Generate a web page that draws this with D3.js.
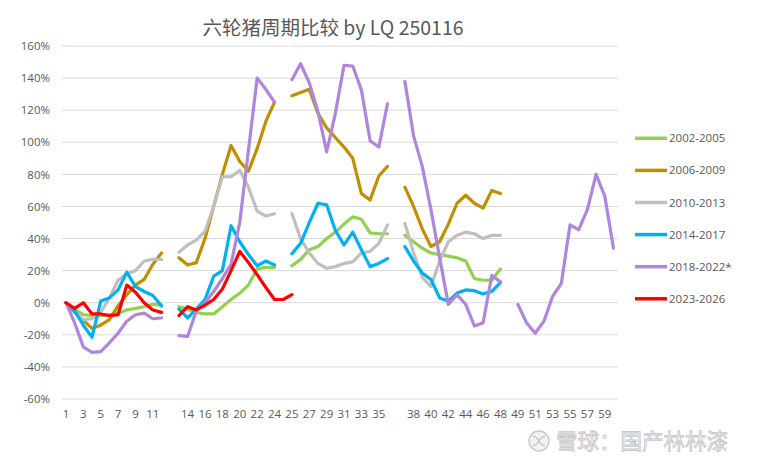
<!DOCTYPE html>
<html>
<head>
<meta charset="utf-8">
<script src="https://cdn.jsdelivr.net/npm/d3@7"></script>
<style>
	body { margin: 0; background: #fff; }
	text { font-family: "Open Sans", "Liberation Sans", sans-serif; }
</style>
</head>
<body>
<svg id="chart" width="759" height="467"></svg>
<script>
var n = null;

/*
 * x categories: five years of months, a blank slot between each year
 */
var categories = [1,2,3,4,5,6,7,8,9,10,11,12,"",
	13,14,15,16,17,18,19,20,21,22,23,24,"",
	25,26,27,28,29,30,31,32,33,34,35,36,"",
	37,38,39,40,41,42,43,44,45,46,47,48,"",
	49,50,51,52,53,54,55,56,57,58,59,60];

var yTicks = [-60,-40,-20,0,20,40,60,80,100,120,140,160];

// values in %, null = no point
var s2002 = [0,-4,-7.5,-8,-8,-7.5,-6.5,-4.5,-3.5,-2.5,-1,-1.5, n,
	-2.5,-4,-6,-7,-7,-2.5,2,6,11,21,22,22, n,
	23,27,33,35,40,44,49,53.5,52,43.5,43,43, n,
	42,38,34,31,30,29,28,26,15,14,14,21, n,
	n,n,n,n,n,n,n,n,n,n,n,n];
var s2006 = [0,-6,-11,-16,-14,-10.5,-2,5,11,14.5,24,31, n,
	28,23.5,25,40,60,80,98,88,82,96,113,125, n,
	129,131,133,118,109,103,97,90,68,64,79,85, n,
	72,60,46,35,38,49,62,67,62,59,70,68, n,
	n,n,n,n,n,n,n,n,n,n,n,n];
var s2010 = [0,-5,-10.5,-10,-6,3,14,18,20,26,27,27, n,
	31.5,36,39,44.5,60,78.5,78.5,82.5,72,57,54,55.5, n,
	55.5,40,31,24.5,21.5,22.5,24.5,25.5,31,32,37,48.5, n,
	49.5,31,16,10,26,38,42,44,43,40,42,42, n,
	n,n,n,n,n,n,n,n,n,n,n,n];
var s2014 = [0,-5,-14,-21.5,1,3,8,19,10,7,4.5,-2, n,
	-4,-9.5,-4,2,16.5,20,48,38,30,23,26,23.5, n,
	30.5,37,50,62,61,45,36,44,33,22.5,24.5,27.5, n,
	35,26,18.5,14.5,3,1,6,8,7.5,5.5,7,12.5, n,
	n,n,n,n,n,n,n,n,n,n,n,n];
var s2018 = [0,-12.5,-27.5,-31,-30.5,-25,-19,-11.5,-7.5,-6.5,-10,-9.5, n,
	-20.5,-21,-5,0,7,15,24,50,95,140,133,125, n,
	139,149,137,119,94,118,148,147.5,132.5,101,97,124, n,
	138,104,85,58,28,-1,5,-1,-14.5,-12.5,17,13, n,
	-1,-12.5,-19,-11.5,4,12,48.5,45.5,58,80,66.5,34];
var s2023 = [0,-3.5,0,-7,-7,-8,-7.5,11,6.5,0,-4.5,-6, n,
	-8,-2.5,-4.5,-1.5,2,8.5,20,32,25,17.5,9.5,2,2,5,
	n,n,n,n,n,n,n,n,n,n,n, n,
	n,n,n,n,n,n,n,n,n,n,n,n, n,
	n,n,n,n,n,n,n,n,n,n,n,n];

var seriesNames = ["2002-2005","2006-2009","2010-2013","2014-2017","2018-2022*","2023-2026"];
var seriesColors = ["#92D050","#BF8F00","#BFBFBF","#00B0F0","#B085DE","#FF0000"];
var seriesValues = [s2002, s2006, s2010, s2014, s2018, s2023];

var svg = d3.select("#chart");

var x = d3.scaleBand()
	.domain(d3.range(categories.length))
	.range([61.6, 617.8])
	.padding(0);

var y = d3.scaleLinear()
	.domain([-60, 160])
	.range([399, 46]);

var cx = function(i) { return x(i) + x.bandwidth() / 2; };

// gridlines
svg.append("g")
	.selectAll("line")
	.data(yTicks).enter()
		.append("line")
			.attr("x1", 61.6)
			.attr("x2", 617.8)
			.attr("y1", function(d) { return y(d); })
			.attr("y2", function(d) { return y(d); })
			.attr("stroke", "#d9d9d9")
			.attr("stroke-width", 1);

// y axis labels
var yAxis = d3.axisLeft(y)
	.tickValues(yTicks)
	.tickSize(0)
	.tickPadding(0)
	.tickFormat(function(d) { return d + "%"; });

svg.append("g")
	.attr("transform", "translate(50,0)")
	.call(yAxis)
	.call(function(g) {
		g.select(".domain").remove();
		g.selectAll("text")
			.attr("fill", "#595959")
			.style("font-size", "11.5px")
			.style("font-family", "\"Open Sans\", sans-serif");
	});

// x axis labels, every second slot
var xAxis = d3.axisBottom(x)
	.tickValues(d3.range(0, categories.length, 2))
	.tickSize(0)
	.tickPadding(0)
	.tickFormat(function(i) { return categories[i]; });

svg.append("g")
	.attr("transform", "translate(0,410)")
	.call(xAxis)
	.call(function(g) {
		g.select(".domain").remove();
		g.selectAll("text")
			.attr("fill", "#595959")
			.style("font-size", "11.5px")
			.style("font-family", "\"Open Sans\", sans-serif");
	});

// lines
var line = d3.line()
	.defined(function(d) { return d != null; })
	.x(function(d, i) { return cx(i); })
	.y(function(d) { return y(d); });

svg.append("g")
	.selectAll("path")
	.data(seriesValues).enter()
		.append("path")
			.attr("d", function(d) { return line(d); })
			.attr("fill", "none")
			.attr("stroke", function(d, i) { return seriesColors[i]; })
			.attr("stroke-width", 3.2)
			.attr("stroke-linejoin", "round")
			.attr("stroke-linecap", "round");

// legend
var legend = svg.append("g")
	.selectAll("g")
	.data(seriesNames).enter()
		.append("g")
			.attr("transform", function(d, i) { return "translate(635," + (138.3 + i * 32.1) + ")"; });

legend.append("line")
	.attr("x1", 0)
	.attr("x2", 32)
	.attr("stroke", function(d, i) { return seriesColors[i]; })
	.attr("stroke-width", 3.5);

legend.append("text")
	.attr("x", 34)
	.attr("dy", "0.35em")
	.attr("fill", "#595959")
	.style("font-size", "11.5px")
	.text(function(d) { return d; });

// title
svg.append("text")
	.attr("x", 333)
	.attr("y", 35)
	.attr("text-anchor", "middle")
	.attr("fill", "#595959")
	.style("font-family", "\"Noto Sans CJK SC\", sans-serif")
	.style("font-size", "19.5px")
	.text("六轮猪周期比较 by LQ 250116");

// watermark
var wm = svg.append("g");
wm.append("circle")
	.attr("cx", 539)
	.attr("cy", 441)
	.attr("r", 10)
	.attr("fill", "#f2f2f2")
	.attr("stroke", "#c8c8c8")
	.attr("stroke-width", 1.4);
wm.append("path")
	.attr("d", "M533,436 q4,1 6,5 q2,4 6,5 M545,436 q-4,1 -6,5 q-2,4 -6,5")
	.attr("fill", "none")
	.attr("stroke", "#c8c8c8")
	.attr("stroke-width", 1.4);
wm.append("text")
	.attr("x", 556)
	.attr("y", 449)
	.attr("fill", "#f0f0f0")
	.attr("stroke", "#c6c6c6")
	.attr("stroke-width", 0.8)
	.style("font-family", "\"Noto Sans CJK SC\", sans-serif")
	.style("font-size", "21.5px")
	.text("雪球：国产林林漆");
</script>
</body>
</html>
